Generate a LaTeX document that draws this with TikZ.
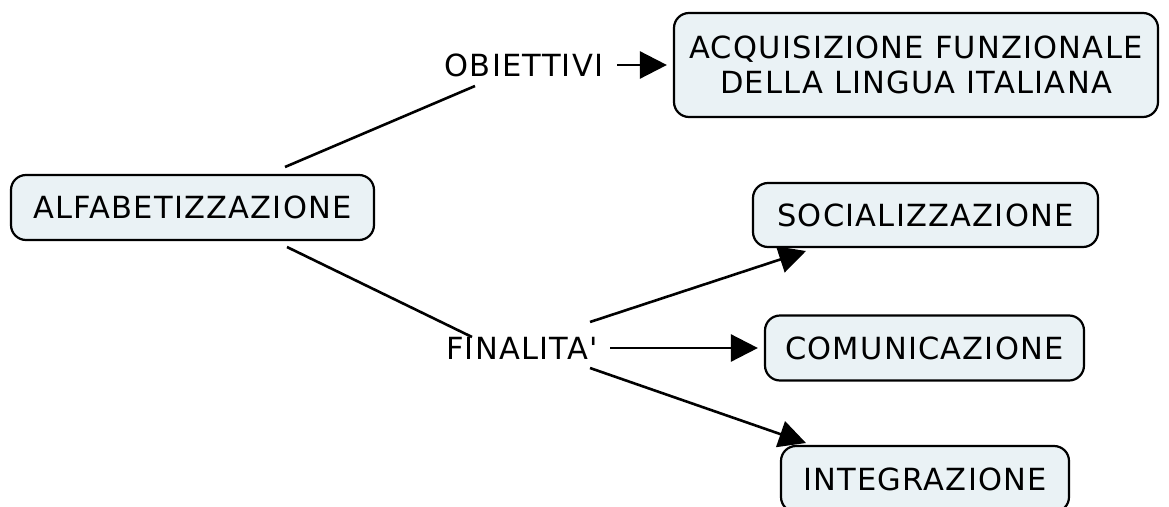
\documentclass[tikz,border=0pt]{standalone}
\usepackage{fontspec}
\newfontfamily\vfont{DejaVu Sans}[LetterSpace=4]
\usetikzlibrary{arrows.meta,calc}
\definecolor{boxfill}{RGB}{234,242,245}
\tikzset{
  concept/.style={draw=black, line width=2.2pt, fill=boxfill, rounded corners=15pt,
    inner sep=0pt, align=center, font=\vfont\fontsize{30.5}{35}\selectfont},
  linklabel/.style={inner sep=0pt, minimum height=40pt, font=\vfont\fontsize{30.5}{35}\selectfont},
  conn/.style={line width=2.6pt},
  arr/.style={line width=2.6pt, -{Triangle[length=27pt,width=27pt]}}
}
\begin{document}
\begin{tikzpicture}[x=1pt,y=-1pt]
\clip (0,0) rectangle (1169,506);
\fill[white] (0,0) rectangle (1169,506);
\node[concept, minimum width=363pt, minimum height=65pt] (alfa) at (192.5,207.5) {ALFABETIZZAZIONE};
\node[concept, minimum width=484pt, minimum height=104pt] (acq) at (916,65) {ACQUISIZIONE FUNZIONALE\\DELLA LINGUA ITALIANA};
\node[concept, minimum width=345pt, minimum height=64pt] (soc) at (925.5,215) {SOCIALIZZAZIONE};
\node[concept, minimum width=319pt, minimum height=65pt] (com) at (924.5,348) {COMUNICAZIONE};
\node[concept, minimum width=288pt, minimum height=66pt] (int) at (925,479) {INTEGRAZIONE};
\node[linklabel] (obj) at (524,65) {OBIETTIVI};
\node[linklabel] (fin) at (522,348) {FINALITA'};
\draw[conn] ($(alfa.center)+(92.5,-40.5)$) -- ($(obj.center)+(-49,21)$);
\draw[arr] ($(obj.center)+(93,0)$) -- ($(acq.west)+(-6,0)$);
\draw[conn] ($(alfa.center)+(94.5,39.5)$) -- ($(fin.center)+(-50,-11)$);
\draw[arr] ($(fin.center)+(68,-26)$) -- ($(soc.center)+(-119.5,36)$);
\draw[arr] ($(fin.center)+(88,0)$) -- ($(com.west)+(-6,0)$);
\draw[arr] ($(fin.center)+(68,20)$) -- ($(int.center)+(-119,-36)$);
\end{tikzpicture}
\end{document}
